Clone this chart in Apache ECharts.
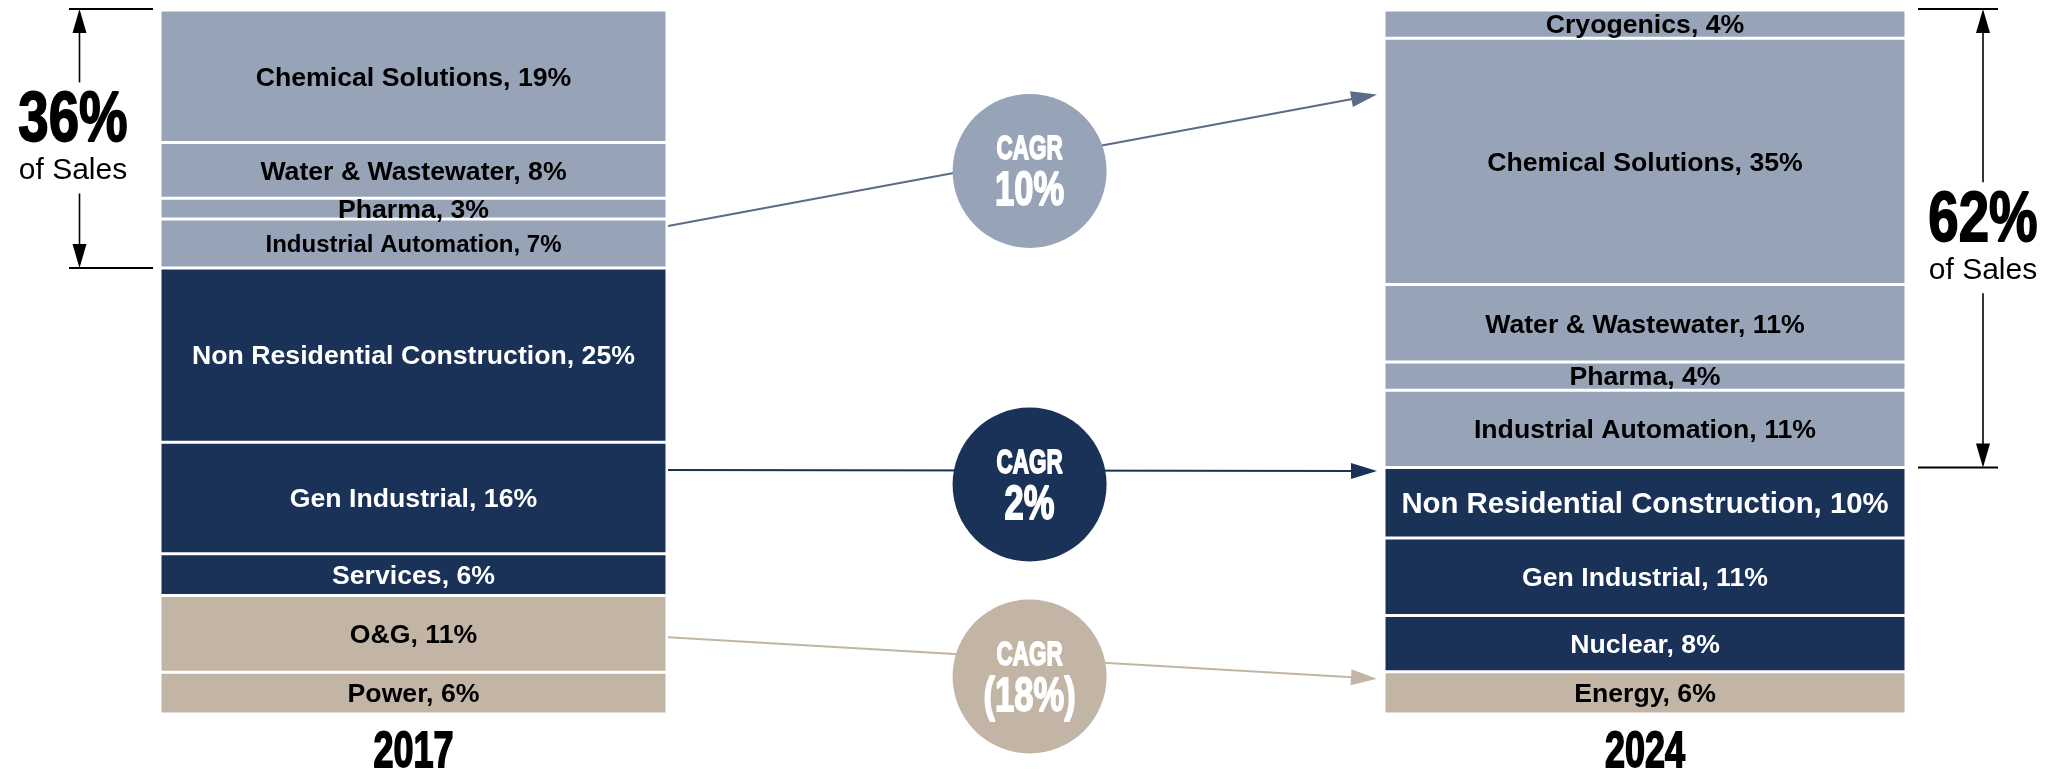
<!DOCTYPE html>
<html>
<head>
<meta charset="utf-8">
<title>Sales mix 2017 vs 2024</title>
<script src="https://cdn.jsdelivr.net/npm/echarts@6/dist/echarts.min.js"></script>
<style>
  html, body { margin: 0; padding: 0; background: #ffffff; }
  #chart { width: 2054px; height: 772px; }
</style>
</head>
<body>
<div id="chart"></div>
<script>
// ---- data -------------------------------------------------------------
const years = ['2017', '2024'];

const segments2017 = ['Chemical Solutions', 'Water & Wastewater', 'Pharma', 'Industrial Automation',
  'Non Residential Construction', 'Gen Industrial', 'Services', 'O&G', 'Power'];
const shares2017 = [19, 8, 3, 7, 25, 16, 6, 11, 6];
const groups2017 = ['process', 'process', 'process', 'process', 'infra', 'infra', 'infra', 'energy', 'energy'];

const segments2024 = ['Cryogenics', 'Chemical Solutions', 'Water & Wastewater', 'Pharma', 'Industrial Automation',
  'Non Residential Construction', 'Gen Industrial', 'Nuclear', 'Energy'];
const shares2024 = [4, 35, 11, 4, 11, 10, 11, 8, 6];
const groups2024 = ['process', 'process', 'process', 'process', 'process', 'infra', 'infra', 'infra', 'energy'];

const processShareLabels = ['36%', '62%'];
const salesCaption = 'of Sales';

const cagrGroups = ['process', 'infra', 'energy'];
const cagrTitle = 'CAGR';
const cagrLabels = ['10%', '2%', '(18%)'];

// ---- styling / layout -------------------------------------------------
const groupColor = { process: '#97a4b8', infra: '#1a3158', energy: '#c3b5a5' };
const groupText = { process: '#000000', infra: '#ffffff', energy: '#000000' };
const connectorColor = { process: '#5b6b88', infra: '#1a3158', energy: '#c3b5a5' };

const labelFont = '"Liberation Sans", Arial, Helvetica, sans-serif';
const baseLabelSize = 26.67;
const labelSizeOverride = { '0|Industrial Automation': 24, '1|Non Residential Construction': 29.33 };

const grids = [
  { left: 160, top: 10, width: 507, height: 704 },
  { left: 1384, top: 10, width: 522, height: 704 }
];
// stacked levels (in share units) where each connector leaves / reaches a column
const connectorLevels = [[70, 88], [35, 34.5], [11, 5]];
const circleDrop = [12, 14, 18];

const columns = [
  { names: segments2017, shares: shares2017, groups: groups2017 },
  { names: segments2024, shares: shares2024, groups: groups2024 }
];

// ---- chart ------------------------------------------------------------
const chart = echarts.init(document.getElementById('chart'), null, { renderer: 'canvas' });

const series = [];
columns.forEach((col, b) => {
  // stack from the bottom segment upwards so the first listed segment sits on top
  for (let i = col.names.length - 1; i >= 0; i--) {
    const name = col.names[i];
    const value = col.shares[i];
    const grp = col.groups[i];
    series.push({
      type: 'bar',
      name: name,
      xAxisIndex: b,
      yAxisIndex: b,
      stack: 'col' + b,
      barWidth: '100%',
      data: [value],
      silent: true,
      itemStyle: { color: groupColor[grp], borderColor: '#ffffff', borderWidth: 1.5 },
      label: {
        show: true,
        position: 'inside',
        offset: [0, 2],
        formatter: () => name + ', ' + value + '%',
        color: groupText[grp],
        fontFamily: labelFont,
        fontWeight: 'bold',
        fontSize: labelSizeOverride[b + '|' + name] || baseLabelSize
      }
    });
  }
});

const sum = arr => arr.reduce((a, v) => a + v, 0);

chart.setOption({
  animation: false,
  backgroundColor: '#ffffff',
  grid: grids.map(g => Object.assign({ containLabel: false }, g)),
  xAxis: columns.map((c, b) => ({ type: 'category', gridIndex: b, data: [years[b]], show: false })),
  yAxis: columns.map((c, b) => ({ type: 'value', gridIndex: b, min: 0, max: sum(c.shares), show: false })),
  series: series
});

// ---- annotations ------------------------------------------------------
const py = (b, v) => chart.convertToPixel({ yAxisIndex: b }, v);
const graphics = [];

function condensedText(x, y, text, size, scaleX, fill) {
  graphics.push({
    type: 'text', x: x, y: y, scaleX: scaleX, silent: true, z: 10,
    style: {
      text: text, fill: fill, stroke: fill, lineWidth: 1.8,
      font: 'bold ' + size + 'px ' + labelFont,
      textAlign: 'center', textVerticalAlign: 'middle', align: 'center', verticalAlign: 'middle'
    }
  });
}
function plainText(x, y, text, size, fill) {
  graphics.push({
    type: 'text', x: x, y: y, silent: true, z: 10,
    style: {
      text: text, fill: fill, font: size + 'px ' + labelFont,
      textAlign: 'center', textVerticalAlign: 'middle', align: 'center', verticalAlign: 'middle'
    }
  });
}
function line(x1, y1, x2, y2, color, w) {
  graphics.push({ type: 'line', silent: true, z: 5, shape: { x1, y1, x2, y2 }, style: { stroke: color, lineWidth: w } });
}
function arrowHead(tx, ty, ux, uy, len, half, color) {
  const bx = tx - ux * len, by = ty - uy * len;
  const nx = -uy, ny = ux;
  graphics.push({
    type: 'polygon', silent: true, z: 6,
    shape: { points: [[tx, ty], [bx + nx * half, by + ny * half], [bx - nx * half, by - ny * half]] },
    style: { fill: color }
  });
  return [bx, by];
}

// brackets marking the process share of each column
const bracketGeom = [
  { x: 79.5, h0: 69, h1: 153, tx: 73 },
  { x: 1983, h0: 1918, h1: 1998, tx: 1983 }
];
columns.forEach((col, b) => {
  const g = bracketGeom[b];
  const lowerPart = sum(col.shares.filter((v, i) => col.groups[i] !== 'process'));
  const yTop = py(b, sum(col.shares)) - 1;
  const yBot = py(b, lowerPart);
  const mid = (yTop + yBot) / 2;
  line(g.h0, yTop, g.h1, yTop, '#000000', 2);
  line(g.h0, yBot, g.h1, yBot, '#000000', 2);
  arrowHead(g.x, yTop, 0, -1, 24, 7, '#000000');
  arrowHead(g.x, yBot, 0, 1, 24, 7, '#000000');
  line(g.x, yTop + 20, g.x, mid - 56, '#000000', 1.6);
  line(g.x, mid + 55, g.x, yBot - 20, '#000000', 1.6);
  condensedText(g.tx, mid - 17, processShareLabels[b], 70, 0.78, '#000000');
  plainText(g.tx, mid + 32, salesCaption, 30, '#000000');
});

// year captions under the columns
columns.forEach((col, b) => {
  const g = grids[b];
  condensedText(g.left + g.width / 2, 753, years[b], 50, 0.72, '#000000');
});

// growth connectors between the columns
const xFrom = grids[0].left + grids[0].width + 1;
const xTo = grids[1].left - 7;
cagrGroups.forEach((grp, k) => {
  const y0 = py(0, connectorLevels[k][0]);
  const y1 = py(1, connectorLevels[k][1]);
  const dx = xTo - xFrom, dy = y1 - y0;
  const L = Math.sqrt(dx * dx + dy * dy);
  const ux = dx / L, uy = dy / L;
  const base = arrowHead(xTo, y1, ux, uy, 26, 8, connectorColor[grp]);
  line(xFrom, y0, base[0] + ux, base[1] + uy, connectorColor[grp], 2);
  const cx = xFrom + 0.51 * dx;
  const cy = y0 + 0.51 * dy + circleDrop[k];
  graphics.push({ type: 'circle', silent: true, z: 8, shape: { cx: cx, cy: cy, r: 77 }, style: { fill: groupColor[grp] } });
  condensedText(cx, cy - 21, cagrTitle, 34, 0.66, '#ffffff');
  condensedText(cx, cy + 21, cagrLabels[k], 48, 0.72, '#ffffff');
});

chart.setOption({ graphic: { elements: graphics } });
</script>
</body>
</html>
